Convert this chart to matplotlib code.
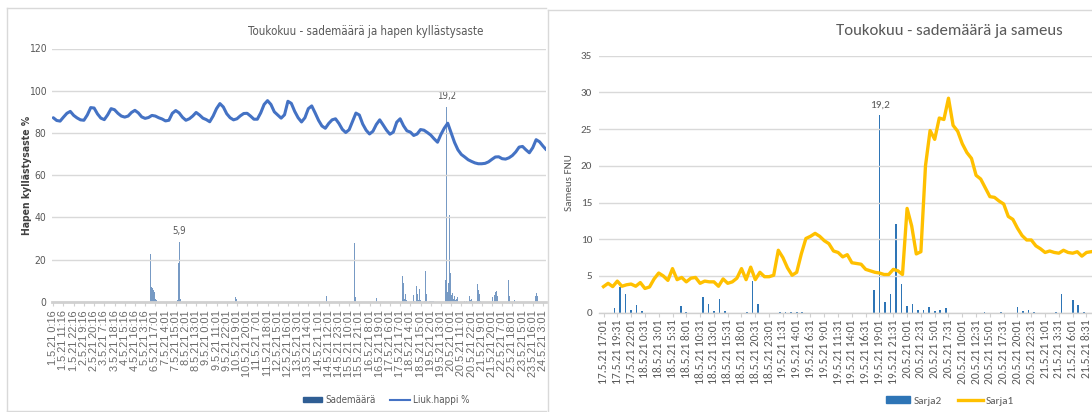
import numpy as np
import matplotlib
matplotlib.use('Agg')
import matplotlib.pyplot as plt
from matplotlib import font_manager as fm
from matplotlib.lines import Line2D
from matplotlib.patches import Patch

# ---------------- data ----------------
# left chart: hourly categories starting 1.5.21 0:16, a label every 11 hours
left_ticklabels = [
    "1.5.21 0:16", "1.5.21 11:16", "1.5.21 22:16", "2.5.21 9:16", "2.5.21 20:16",
    "3.5.21 7:16", "3.5.21 18:16", "4.5.21 5:16", "4.5.21 16:16", "5.5.21 3:16",
    "6.5.21 17:01", "7.5.21 4:01", "7.5.21 15:01", "8.5.21 2:01", "8.5.21 13:01",
    "9.5.21 0:01", "9.5.21 11:01", "9.5.21 22:01", "10.5.21 9:01", "10.5.21 20:01",
    "11.5.21 7:01", "11.5.21 18:01", "12.5.21 5:01", "12.5.21 16:01", "13.5.21 3:01",
    "13.5.21 14:01", "14.5.21 1:01", "14.5.21 12:01", "14.5.21 23:01", "15.5.21 10:01",
    "15.5.21 21:01", "16.5.21 8:01", "16.5.21 19:01", "17.5.21 6:01", "17.5.21 17:01",
    "18.5.21 4:01", "18.5.21 15:01", "19.5.21 2:01", "19.5.21 13:01", "20.5.21 0:01",
    "20.5.21 11:01", "20.5.21 22:01", "21.5.21 9:01", "21.5.21 20:01", "22.5.21 7:01",
    "22.5.21 18:01", "23.5.21 5:01", "23.5.21 16:01", "24.5.21 3:01",
]
left_label_every_h = 11

# dissolved oxygen saturation (%), one reading every 11/3 hours
oxygen_step_h = 11 / 3
oxygen_pct = [
    87.2, 85.9, 85.6, 87.5, 89.3, 90.2, 88.3, 87.1, 86.2, 86.0,
    88.5, 92.0, 91.8, 89.0, 87.0, 86.3, 88.6, 91.5, 91.0, 89.3,
    88.0, 87.5, 88.0, 89.7, 90.7, 89.5, 87.6, 86.9, 87.3, 88.3,
    88.0, 87.2, 86.6, 85.7, 86.0, 89.3, 90.6, 89.5, 87.4, 86.0,
    86.7, 88.0, 89.7, 88.5, 87.0, 86.3, 85.3, 88.0, 91.5, 93.9,
    92.3, 89.1, 87.2, 86.2, 86.7, 88.1, 89.2, 89.3, 88.0, 86.5,
    86.5, 89.5, 93.5, 95.3, 93.5, 90.0, 88.5, 87.0, 88.6, 95.0,
    94.0, 90.2, 87.2, 85.2, 87.2, 91.5, 92.8, 89.5, 86.0, 83.3,
    82.2, 84.5, 86.2, 86.7, 84.5, 81.7, 80.2, 81.5, 85.5, 89.4,
    88.5, 84.2, 81.3, 79.5, 80.8, 84.0, 86.2, 83.8, 81.3, 79.4,
    80.4, 85.1, 86.7, 83.4, 81.0, 80.4, 78.8, 79.5, 81.6, 81.3,
    80.2, 79.0, 77.2, 75.6, 79.3, 82.3, 84.6, 80.0, 75.5, 72.0,
    69.8, 68.6, 67.3, 66.5, 65.8, 65.4, 65.4, 65.6, 66.3, 67.5,
    68.6, 68.7, 67.8, 67.6, 68.2, 69.3, 71.0, 73.3, 73.6, 72.0,
    70.6, 73.0, 76.8, 75.8, 73.8, 72.0,
]

# hourly rainfall (mm): hour index (from 1.5.21 0:16) and amount
rain_hour = [
    105, 106, 107, 108, 109, 110, 111,
    134, 135, 136, 137,
    196, 197, 198,
    295, 325, 326, 349,
    376, 377, 378, 379, 380, 381,
    388, 389, 392, 393, 394, 395, 396,
    400, 401, 402, 406, 407, 408, 409, 410,
    423, 424, 425, 426, 427, 428, 429, 430, 431, 432, 433, 434, 435, 436,
    443, 446, 449, 450, 451, 452,
    456, 457, 459, 460, 461,
    474, 476, 477, 478, 479,
    491, 492, 497,
    520, 521, 522,
]
rain_mm = [
    4.75, 1.5, 1.4, 1.2, 1.0, 0.3, 0.2,
    0.2, 3.8, 5.9, 0.3,
    0.5, 0.9, 0.3,
    0.6, 5.8, 0.5, 0.4,
    0.43, 2.5, 1.85, 0.3, 0.75, 0.2,
    0.65, 0.1, 1.55, 0.8, 0.15, 1.3, 0.2,
    0.1, 3.05, 0.8, 0.1, 0.1, 0.1, 0.1, 0.1,
    2.2, 19.2, 1.0, 1.85, 8.6, 2.8, 0.7, 0.85, 0.25, 0.3, 0.55, 0.2, 0.25, 0.45,
    0.1, 0.1, 0.55, 0.2, 0.25, 0.05,
    0.1, 1.8, 1.2, 0.75, 0.1,
    0.5, 0.65, 1.0, 1.1, 0.6,
    2.2, 0.6, 0.2,
    0.6, 0.9, 0.6,
]
rain_labels = {136: "5,9", 424: "19,2"}

# right chart: 10-minute categories starting 17.5.21 17:01 (= left hour 374)
right_start_hour = 374
right_ticklabels = [
    "17.5.21 17:01", "17.5.21 19:31", "17.5.21 22:01", "18.5.21 0:31", "18.5.21 3:01",
    "18.5.21 5:31", "18.5.21 8:01", "18.5.21 10:31", "18.5.21 13:01", "18.5.21 15:31",
    "18.5.21 18:01", "18.5.21 20:31", "18.5.21 23:01", "19.5.21 1:31", "19.5.21 4:01",
    "19.5.21 6:31", "19.5.21 9:01", "19.5.21 11:31", "19.5.21 14:01", "19.5.21 16:31",
    "19.5.21 19:01", "19.5.21 21:31", "20.5.21 0:01", "20.5.21 2:31", "20.5.21 5:01",
    "20.5.21 7:31", "20.5.21 10:01", "20.5.21 12:31", "20.5.21 15:01", "20.5.21 17:31",
    "20.5.21 20:01", "20.5.21 22:31", "21.5.21 1:01", "21.5.21 3:31", "21.5.21 6:01",
    "21.5.21 8:31",
]
right_label_every = 15          # categories (10 min each)
cats_per_hour = 6
turbidity_step = 5              # one turbidity reading every 5 categories (50 min)
turbidity_fnu = [
    3.55, 4.0, 3.55, 4.3, 3.6, 3.8, 3.9, 3.6, 4.1, 3.3,
    3.5, 4.6, 5.4, 5.0, 4.4, 6.0, 4.5, 4.8, 4.2, 4.7,
    4.8, 4.0, 4.3, 4.2, 4.2, 3.6, 4.6, 4.0, 4.2, 4.7,
    6.0, 4.5, 6.2, 4.5, 5.5, 4.9, 4.9, 5.1, 8.5, 7.5,
    6.1, 5.1, 5.5, 8.0, 10.1, 10.4, 10.8, 10.4, 9.8, 9.4,
    8.4, 8.2, 7.6, 7.9, 6.8, 6.7, 6.6, 5.9, 5.7, 5.5,
    5.4, 5.2, 5.2, 5.9, 5.7, 5.2, 14.2, 11.8, 8.0, 8.3,
    20.0, 24.8, 23.6, 26.5, 26.3, 29.2, 25.5, 24.7, 23.0, 21.8,
    21.0, 18.7, 18.2, 17.0, 15.8, 15.7, 15.2, 14.8, 13.1, 12.7,
    11.5, 10.5, 9.9, 9.9, 9.1, 8.7, 8.2, 8.4, 8.2, 8.1,
    8.5, 8.2, 8.1, 8.3, 7.7, 8.2, 8.3,
]

# ---------------- fonts ----------------
def pick(*names):
    for n in names:
        try:
            fm.findfont(fm.FontProperties(family=n), fallback_to_default=False)
            return n
        except Exception:
            pass
    return 'DejaVu Sans'


def narrow_file(bold=False):
    cands = []
    for f in fm.fontManager.ttflist:
        fn = f.fname.lower()
        if 'oblique' in fn or 'italic' in fn:
            continue
        isbold = 'bold' in fn
        if isbold != bold:
            continue
        if f.name == 'Liberation Sans Narrow':
            cands.append((0, f.fname))
        elif 'dejavusanscondensed' in fn.replace('-', '').replace('_', ''):
            cands.append((1, f.fname))
    cands.sort()
    return cands[0][1] if cands else None


SANS = pick('Liberation Sans', 'DejaVu Sans')
HUM = pick('Carlito', 'Lato', 'Open Sans')
NF = narrow_file(False)
NFB = narrow_file(True)


def nprop(size, bold=False):
    f = NFB if bold else NF
    if f is None:
        f = NF
    if f is not None:
        return fm.FontProperties(fname=f, size=size)
    return fm.FontProperties(family=SANS, size=size * 0.85,
                             weight='bold' if bold else 'normal')


W, H = 1092, 412
fig = plt.figure(figsize=(W / 100, H / 100), dpi=100)
fig.patch.set_facecolor('white')
renderer = fig.canvas.get_renderer()


def rect(l, r, top, bottom):
    return [l / W, 1 - bottom / H, (r - l) / W, (bottom - top) / H]


def fit_width(txt, target_px):
    # scale the font so the text spans the same width as in the reference
    bb = txt.get_window_extent(renderer=renderer)
    txt.set_fontsize(txt.get_fontsize() * target_px / bb.width)


GRID = '#D9D9D9'
TXT = '#595959'

# panel frames
fig.add_artist(Line2D([7 / W, 7 / W], [1 - 411 / H, 1 - 8 / H], color=GRID, lw=1))
fig.add_artist(Line2D([7 / W, 546 / W], [1 - 8 / H, 1 - 8 / H], color=GRID, lw=1))
fig.add_artist(Line2D([7 / W, 546 / W], [1 - 411 / H, 1 - 411 / H], color=GRID, lw=1))
fig.add_artist(Line2D([548 / W, 548 / W], [0, 1 - 10 / H], color=GRID, lw=1))
fig.add_artist(Line2D([548 / W, 1], [1 - 10 / H, 1 - 10 / H], color=GRID, lw=1))

# ================= LEFT CHART =================
L_XLIM = (-1.4, 531.3)
axL2 = fig.add_axes(rect(52, 546, 48.5, 301.8))
axL = fig.add_axes(rect(52, 546, 48.5, 301.8))
axL.set_zorder(axL2.get_zorder() + 1)
axL.patch.set_visible(False)

axL2.bar(rain_hour, rain_mm, width=1.0, color='#4A78B0', alpha=0.75, linewidth=0)
axL2.set_ylim(0, 25)
axL2.set_xlim(*L_XLIM)
axL2.axis('off')
for h, lab in rain_labels.items():
    axL2.annotate(lab, xy=(h, rain_mm[rain_hour.index(h)]), xytext=(0, 8),
                  textcoords='offset points', ha='center', va='center',
                  fontproperties=nprop(7), color=TXT)

ox_x = np.arange(len(oxygen_pct)) * oxygen_step_h
axL.plot(ox_x, oxygen_pct, color='#4472C4', lw=2.2, solid_capstyle='round',
         solid_joinstyle='round')
axL.set_xlim(*L_XLIM)
axL.set_ylim(0, 120)
axL.set_yticks(np.arange(0, 121, 20))
axL.yaxis.grid(True, color=GRID, lw=1)
axL.set_axisbelow(True)
for s in ['top', 'right', 'left']:
    axL.spines[s].set_visible(False)
axL.spines['bottom'].set_color('#D0D0D0')
axL.spines['bottom'].set_linewidth(2.0)
axL.tick_params(axis='y', length=0, pad=4, labelcolor=TXT)
for t in axL.get_yticklabels():
    t.set_fontproperties(nprop(7.5))
axL.set_xticks(np.arange(len(left_ticklabels)) * left_label_every_h)
axL.set_xticklabels(left_ticklabels, rotation=90, fontsize=7.9, color='#6A6A6A', family=SANS)
axL.tick_params(axis='x', length=3, color='#D0D0D0', pad=3)

tL = fig.text(366 / W, 1 - 32 / H, 'Toukokuu - sademäärä ja hapen kyllästysaste',
              ha='center', va='center', fontproperties=nprop(10), color=TXT)
fit_width(tL, 236)
fig.text(27 / W, 1 - 175 / H, 'Hapen kyllästysaste %', rotation=90,
         ha='center', va='center', fontproperties=nprop(7.5, bold=True), color='#404040')

axL.legend([Patch(color='#2F5E94'), Line2D([], [], color='#4472C4', lw=1.5)],
           ['Sademäärä', 'Liuk.happi %'], loc='center',
           bbox_to_anchor=(386 / W, 1 - 400 / H), bbox_transform=fig.transFigure,
           ncol=2, frameon=False, prop=nprop(7),
           labelcolor=TXT, handlelength=2.0, handleheight=0.5, columnspacing=1.5,
           handletextpad=0.3)

# ================= RIGHT CHART =================
R_XLIM = (-4.9, 531)
axR2 = fig.add_axes(rect(599, 1092, 55.6, 312.7))
axR = fig.add_axes(rect(599, 1092, 55.6, 312.7))
axR.set_zorder(axR2.get_zorder() + 1)
axR.patch.set_visible(False)

rh = np.array(rain_hour)
rm = np.array(rain_mm)
sel = rh >= right_start_hour
r_x = (rh[sel] - right_start_hour) * cats_per_hour
axR2.bar(r_x, rm[sel], width=1.8, color='#2E75B6', linewidth=0)
axR2.set_ylim(0, 25)
axR2.set_xlim(*R_XLIM)
axR2.axis('off')
axR2.annotate('19,2', xy=((424 - right_start_hour) * cats_per_hour, 19.2), xytext=(0, 7.5),
              textcoords='offset points', ha='center', va='center',
              fontsize=8, color=TXT, family=HUM)

t_x = np.arange(len(turbidity_fnu)) * turbidity_step
axR.plot(t_x, turbidity_fnu, color='#FFC000', lw=2.4, solid_joinstyle='round')
axR.set_xlim(*R_XLIM)
axR.set_ylim(0, 35)
axR.set_yticks(np.arange(0, 36, 5))
axR.yaxis.grid(True, color=GRID, lw=1)
axR.set_axisbelow(True)
for s in ['top', 'right', 'left']:
    axR.spines[s].set_visible(False)
axR.spines['bottom'].set_color('#D0D0D0')
axR.spines['bottom'].set_linewidth(1.0)
axR.tick_params(axis='y', length=0, pad=5, labelsize=8, labelcolor=TXT)
for t in axR.get_yticklabels():
    t.set_family(HUM)
axR.set_xticks(np.arange(len(right_ticklabels)) * right_label_every)
axR.set_xticklabels(right_ticklabels, rotation=90, fontsize=8.3, color=TXT, family=HUM)
axR.tick_params(axis='x', length=3, color='#D0D0D0', pad=2)

tR = fig.text(949 / W, 1 - 31 / H, 'Toukokuu - sademäärä ja sameus',
              ha='center', va='center', fontsize=11, color=TXT, family=HUM)
fit_width(tR, 226)
fig.text(570 / W, 1 - 183 / H, 'Sameus FNU', rotation=90,
         ha='center', va='center', fontsize=8, color=TXT, family=HUM)

axR.legend([Patch(color='#2E75B6'), Line2D([], [], color='#FFC000', lw=2.4)],
           ['Sarja2', 'Sarja1'], loc='center',
           bbox_to_anchor=(950 / W, 1 - 401 / H), bbox_transform=fig.transFigure,
           ncol=2, frameon=False, prop={'family': HUM, 'size': 8},
           labelcolor=TXT, handlelength=2.2, handleheight=0.5, columnspacing=1.5,
           handletextpad=0.3)

fig.savefig('out.png', dpi=100)
